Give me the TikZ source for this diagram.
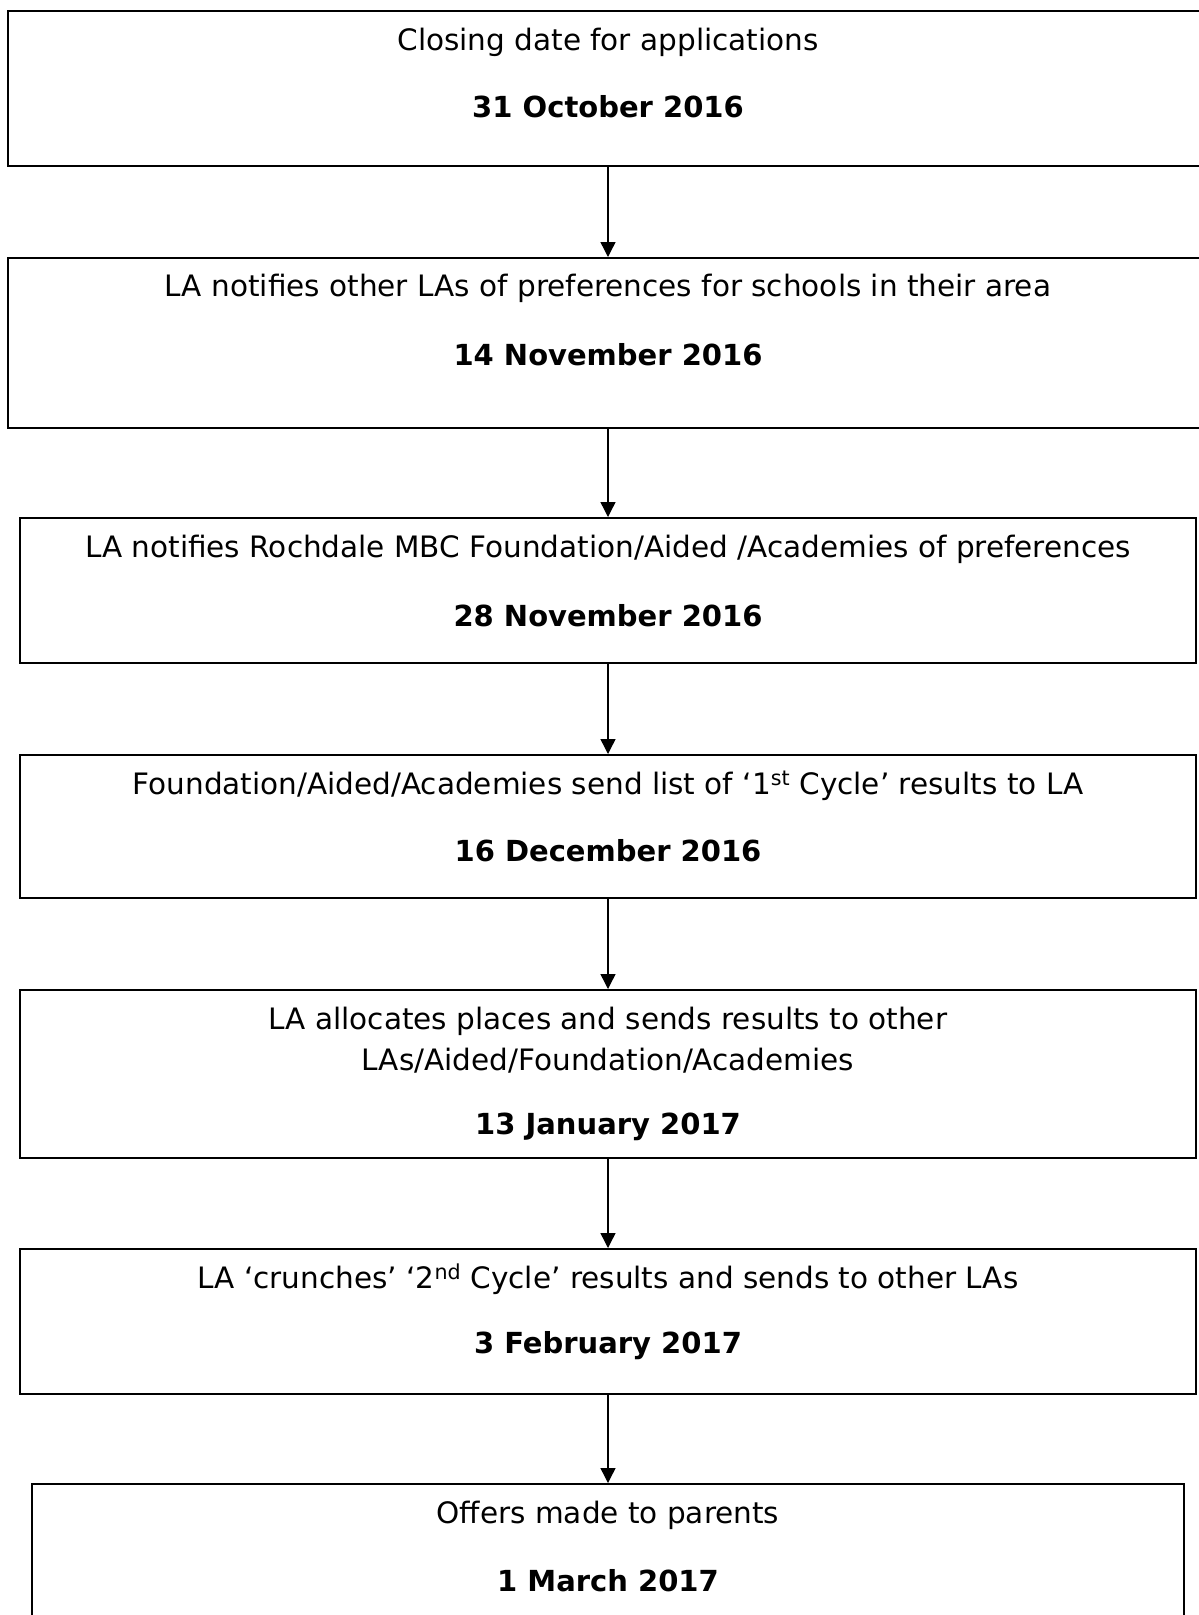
\documentclass[tikz,border=0pt]{standalone}
\usepackage{fontspec}
\setmainfont{DejaVu Sans}
\usetikzlibrary{arrows.meta}

\tikzset{
  box/.style={draw, line width=1.5pt, anchor=north, minimum width=1176pt},
  txt/.style={font=\fontsize{29.5}{41}\selectfont, align=center},
  date/.style={font=\fontsize{29}{41}\selectfont\bfseries},
  arr/.style={line width=1.4pt, -{Triangle[length=15pt, width=15pt]}}
}

\begin{document}
\begin{tikzpicture}[x=1pt, y=-1pt]
  \useasboundingbox (0,0) rectangle (1199,1615);

  % Boxes (top edge, height)
  \node[box, line width=2pt, minimum width=1200pt, minimum height=155pt] (b1) at (608,10) {};
  \node[box, minimum width=1200pt, minimum height=170pt] (b2) at (608,257) {};
  \node[box, minimum height=145pt] (b3) at (608,517) {};
  \node[box, minimum height=143pt] (b4) at (608,754) {};
  \node[box, minimum height=168pt] (b5) at (608,989) {};
  \node[box, minimum height=145pt] (b6) at (608,1248) {};
  \node[box, line width=2pt, minimum width=1152pt, minimum height=160pt] (b7) at (608,1483) {};

  % Texts
  \node[txt] (t1) at ([yshift=-32pt]b1.north) {Closing date for applications};
  \node[date] (d1) at ([yshift=-97pt]b1.north) {31 October 2016};

  \node[txt] (t2) at ([yshift=-31pt]b2.north) {LA notifies other LAs of preferences for schools in their area};
  \node[date] (d2) at ([yshift=-98pt]b2.north) {14 November 2016};

  \node[txt] (t3) at ([yshift=-32pt]b3.north) {LA notifies Rochdale MBC Foundation/Aided /Academies of preferences};
  \node[date] (d3) at ([yshift=-99pt]b3.north) {28 November 2016};

  \node[txt] (t4) at ([yshift=-32pt]b4.north) {Foundation/Aided/Academies send list of ‘1\textsuperscript{st} Cycle’ results to LA};
  \node[date] (d4) at ([yshift=-97pt]b4.north) {16 December 2016};

  \node[txt] (t5) at ([yshift=-51pt]b5.north) {LA allocates places and sends results to other\\LAs/Aided/Foundation/Academies};
  \node[date] (d5) at ([yshift=-138pt]b5.north) {13 January 2017};

  \node[txt] (t6) at ([yshift=-31pt]b6.north) {LA ‘crunches’ ‘2\textsuperscript{nd} Cycle’ results and sends to other LAs};
  \node[date] (d6) at ([yshift=-98pt]b6.north) {3 February 2017};

  \node[txt] (t7) at ([yshift=-32pt]b7.north) {Offers made to parents};
  \node[date] (d7) at ([yshift=-98pt]b7.north) {1 March 2017};

  % Arrows
  \foreach \a/\b in {b1/b2, b2/b3, b3/b4, b4/b5, b5/b6, b6/b7}
    \draw[arr] (\a.south) -- (\b.north);
\end{tikzpicture}
\end{document}
